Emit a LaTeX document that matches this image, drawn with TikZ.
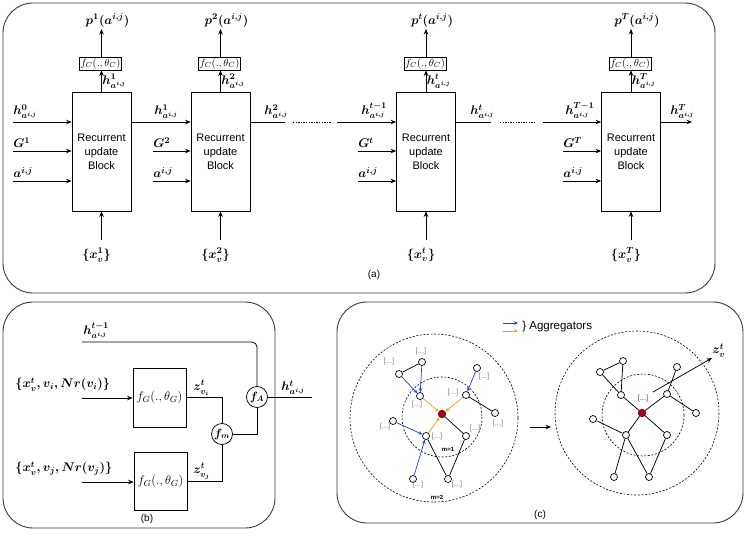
\RequirePackage{fix-cm}
\documentclass[tikz,border=0pt]{standalone}
\usepackage{fontspec}
\setsansfont{Liberation Sans}
\usetikzlibrary{arrows.meta,calc}
\definecolor{aggblue}{HTML}{1F3FD8}
\definecolor{aggorange}{HTML}{E6A817}
\definecolor{rednode}{HTML}{A50021}
\definecolor{dotlab}{HTML}{808080}
\definecolor{purplab}{HTML}{A0306A}
\definecolor{panelc}{HTML}{3A3A3A}
\begin{document}
\begin{tikzpicture}[x=1pt,y=-1pt,line width=0.75pt,
  panel/.style={draw=panelc,line width=0.9pt,rounded corners=30pt},
  rub/.style={draw,minimum width=59pt,minimum height=119pt,inner sep=0pt,align=center,font=\sffamily\fontsize{11}{14}\selectfont},
  fcbox/.style={draw,minimum width=42pt,minimum height=13pt,inner sep=0pt,font=\fontsize{10.5}{12}\selectfont},
  fgbox/.style={draw,minimum width=53pt,minimum height=59pt,inner sep=0pt,font=\fontsize{12.5}{14}\selectfont},
  lab/.style={font=\fontsize{12.5}{14}\selectfont\boldmath,inner sep=1pt},
  inlab/.style={lab,anchor=south west,inner sep=0pt,yshift=3pt},
  arr/.style={-{Stealth[length=5.5pt,width=4.5pt]}},
  fcirc/.style={circle,draw,minimum size=21pt,inner sep=0pt,font=\fontsize{12}{13}\selectfont\boldmath},
  gnode/.style={circle,draw,fill=white,minimum size=7pt,inner sep=0pt,line width=0.7pt},
  rnode/.style={circle,draw=rednode!70!black,fill=rednode,minimum size=7.5pt,inner sep=0pt},
  dl/.style={font=\sffamily\fontsize{7.5}{8}\selectfont,text=dotlab,inner sep=0pt},
  ml/.style={font=\sffamily\bfseries\fontsize{6}{7}\selectfont,inner sep=0pt},
  ring/.style={draw,dash pattern=on 2pt off 1.6pt,line width=0.6pt},
  barr/.style={draw=aggblue,-{Stealth[length=4pt,width=3.5pt]},line width=0.7pt},
  oarr/.style={draw=aggorange,-{Stealth[length=4pt,width=3.5pt]},line width=0.7pt},
  captext/.style={font=\sffamily\fontsize{10}{12}\selectfont,inner sep=0pt}]
\useasboundingbox (0,0) rectangle (747,539);

% ---------------- panel (a)
\draw[panel] (3,3) rectangle (715,293);
\node[captext] (capa) at (374,275) {(a)};

\foreach \n/\X/\k/\xs in {bA/101.5/1/13, bB/220.5/2/153, bC/426/t/358, bD/631/T/563}{
  \node[rub] (\n) at (\X,151.5) {Recurrent\\update\\Block};
  \node[fcbox] (\n c) at (\X-1,63.5) {$f_C(.,\theta_C)$};
  \node[lab,anchor=south] (\n p) at (\X+6,29) {$p^{\k}(a^{i,j})$};
  \draw[arr] (\n.north) -- (\n.north |- \n c.south) node[midway,right,lab,inner sep=0.5pt] {$h^{\k}_{a^{i,j}}$};
  \draw[arr] (\n c.north -| \n.north) -- (\n p.south -| \n.north);
  \node[lab] (\n x) at (\X-5,255) {$\{x_v^{\k}\}$};
  \coordinate (\n s) at (\X,240);
  \draw[arr] (\n s) -- (\n.south);
  \coordinate (\n G) at (\xs,151);
  \coordinate (\n A) at (\xs,181);
  \draw[arr] (\n G) node[inlab] {$G^{\k}$} -- (\n G -| \n.west);
  \draw[arr] (\n A) node[inlab] {$a^{i,j}$} -- (\n A -| \n.west);
}
\coordinate (h0) at (13,122);
\draw[arr] (h0) node[inlab] {$h^{0}_{a^{i,j}}$} -- (h0 -| bA.west);
\coordinate (h1s) at (154,122);
\draw[arr] (bA.east |- h0) -- (bB.west |- h0);
\node[inlab] at (h1s) {$h^{1}_{a^{i,j}}$};
\coordinate (d1a) at (285,122);
\coordinate (d1b) at (293,122);
\coordinate (d1c) at (331,122);
\coordinate (d1d) at (337,122);
\draw (bB.east |- h0) -- (d1a);
\node[inlab] at (264,122) {$h^{2}_{a^{i,j}}$};
\draw[dash pattern=on 1.3pt off 1.3pt] (d1b) -- (d1c);
\draw[arr] (d1d) -- (bC.west |- h0);
\node[inlab] at (361,122) {$h^{t-1}_{a^{i,j}}$};
\coordinate (d2a) at (491,122);
\coordinate (d2b) at (500,122);
\coordinate (d2c) at (536,122);
\coordinate (d2d) at (543,122);
\draw (bC.east |- h0) -- (d2a);
\node[inlab] at (470,122) {$h^{t}_{a^{i,j}}$};
\draw[dash pattern=on 1.3pt off 1.3pt] (d2b) -- (d2c);
\draw[arr] (d2d) -- (bD.west |- h0);
\node[inlab] at (565,122) {$h^{T-1}_{a^{i,j}}$};
\coordinate (hout) at (692,122);
\draw[arr] (bD.east |- h0) -- (hout);
\node[inlab] at (670,122) {$h^{T}_{a^{i,j}}$};

% ---------------- panel (b)
\draw[panel] (3,302) rectangle (275,528);
\node[captext] (capb) at (147,519) {(b)};
\node[fgbox] (fg1) at (159.5,397.5) {$f_G(.,\theta_G)$};
\node[fgbox,minimum height=58pt] (fg2) at (160.5,481) {$f_G(.,\theta_G)$};
\node[fcirc] (fm) at (222,434) {$f_m$};
\node[fcirc] (fa) at (257,397) {$f_A$};
\coordinate (in1) at (82,398);
\coordinate (in2) at (82,482);
\node[lab,anchor=south west] at (14,393) {$\{x_v^t,v_i,Nr(v_i)\}$};
\node[lab,anchor=south west] at (14,477) {$\{x_v^t,v_j,Nr(v_j)\}$};
\draw[arr] (in1) -- (in1 -| fg1.west);
\draw[arr] (in2) -- (in2 -| fg2.west);
\draw (fg1.east) -| (fm.north);
\draw (fg2.east) -| (fm.south);
\node[lab,anchor=south west] at (192,397) {$z^t_{v_i}$};
\node[lab,anchor=south west] at (192,481) {$z^t_{v_j}$};
\draw (fm.east) -| (fa.south);
\coordinate (hb) at (82,342);
\node[lab,anchor=south west] at (82,340) {$h^{t-1}_{a^{i,j}}$};
\draw[rounded corners=5pt] (hb) -| (fa.north);
\coordinate (hbo) at (312,397);
\draw (fa.east) -- (hbo);
\node[lab,anchor=south west] at (280,396) {$h^{t}_{a^{i,j}}$};

% ---------------- panel (c)
\draw[panel] (337,302) rectangle (743,523);
\node[captext] (capc) at (540,515) {(c)};
\coordinate (lb1) at (503,323);
\coordinate (lb2) at (518,323);
\coordinate (lo1) at (503,331);
\coordinate (lo2) at (518,331);
\draw[barr] (lb1) -- (lb2);
\draw[oarr] (lo1) -- (lo2);
\node[font=\sffamily\fontsize{11.5}{13}\selectfont,anchor=west,inner sep=0pt] (agg) at (522,327) {\} Aggregators};

% left graph
\draw[ring] (434,418) circle (84);
\draw[ring] (442,417) circle (40);
\node[gnode] (lA) at (422,362) {};
\node[gnode] (lB) at (399,374) {};
\node[gnode] (lC) at (420,396) {};
\node[gnode] (lD) at (477,368) {};
\node[gnode] (lE) at (466,395) {};
\node[gnode] (lF) at (495,413) {};
\node[gnode] (lG) at (393,421) {};
\node[gnode] (lH) at (426,436) {};
\node[gnode] (lI) at (466,436) {};
\node[gnode] (lJ) at (413,479) {};
\node[gnode] (lK) at (448,479) {};
\node[rnode] (lR) at (442,414) {};
\draw (lB) -- (lA);
\draw (lE) -- (lF);
\draw (lR) -- (lI);
\draw (lH) -- (lK);
\draw (lI) -- (lK);
\draw[barr] (lA) -- (lC);
\draw[barr] (lB) -- (lC);
\draw[barr] (lD) -- (lE);
\draw[barr] (lG) -- (lH);
\draw[barr] (lJ) -- (lH);
\draw[oarr] (lC) -- (lR);
\draw[oarr] (lE) -- (lR);
\draw[oarr] (lH) -- (lR);
\foreach \p in {(421,352),(389,362),(417,405),(453,393),(484,377),(498,424),(385,427),(437,437),(475,429),(418,485),(457,485)}
  \node[dl] at \p {[...]};
\node[ml] at (448,449) {m=1};
\node[ml] at (437,497) {m=2};

\coordinate (ga) at (530,427);
\coordinate (gb) at (551,427);
\draw[arr] (ga) -- (gb);

% right graph
\draw[ring] (637,413) circle (82);
\draw[ring] (643,415) circle (41);
\node[gnode] (rA) at (623,361) {};
\node[gnode] (rB) at (600,372) {};
\node[gnode] (rC) at (621,395) {};
\node[gnode] (rD) at (677,367) {};
\node[gnode] (rE) at (667,394) {};
\node[gnode] (rF) at (696,413) {};
\node[gnode] (rG) at (593,419) {};
\node[gnode] (rH) at (626,435) {};
\node[gnode] (rI) at (667,435) {};
\node[gnode] (rJ) at (614,477) {};
\node[gnode] (rK) at (649,477) {};
\node[rnode] (rR) at (642,413) {};
\draw (rB) -- (rA);
\draw (rA) -- (rC);
\draw (rB) -- (rC);
\draw (rD) -- (rE);
\draw (rE) -- (rF);
\draw (rC) -- (rR);
\draw (rE) -- (rR);
\draw (rG) -- (rH);
\draw (rH) -- (rR);
\draw (rR) -- (rI);
\draw (rH) -- (rJ);
\draw (rH) -- (rK);
\draw (rI) -- (rK);
\node[dl,text=purplab] (rl) at (643,399) {[...]};
\coordinate (zs) at (653,392);
\node[lab,anchor=south west,inner sep=0pt] (zl) at (712,358) {$z_v^t$};
\draw[arr] (zs) -- (zl.south west);
\end{tikzpicture}
\end{document}
